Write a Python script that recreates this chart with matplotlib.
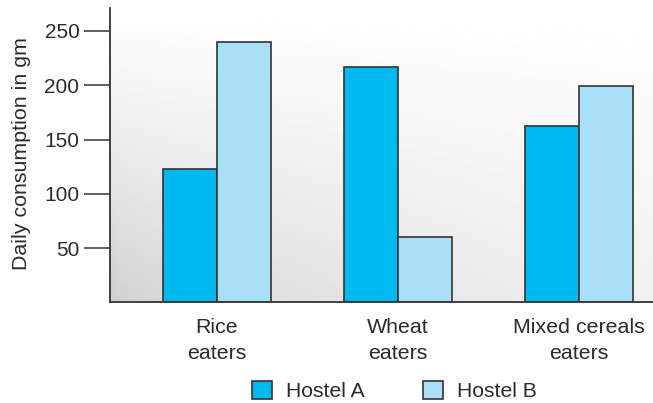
import numpy as np
import matplotlib.pyplot as plt
from matplotlib.patches import Patch

plt.rcParams["font.family"] = ["Liberation Sans", "DejaVu Sans"]

groups = ["Rice\neaters", "Wheat\neaters", "Mixed cereals\neaters"]
hostel_a = [123, 217, 162]
hostel_b = [240, 60, 199]
series_names = ["Hostel A", "Hostel B"]
yticks = [50, 100, 150, 200, 250]

col_a = "#00b9ef"
col_b = "#a9dff7"
txt = "#2b2b2b"

fig = plt.figure(figsize=(6.53, 4.03), dpi=100)
ax = fig.add_axes([0.1685, 0.2494, 0.8315, 0.7306])

x = np.arange(len(groups))
w = 0.298
xlim = (-0.591, 2.41)
ylim = (0, 271)

# gray background fading to white towards the top and right
gx, gy = np.meshgrid(np.linspace(0, 1, 300), np.linspace(0, 1, 200))
d = (1 - gy) ** 1.1 * (1 - 0.7 * gx ** 0.6)
shade = 1 - 0.19 * d
ax.imshow(shade, cmap="gray", vmin=0, vmax=1, origin="lower", aspect="auto",
          extent=(*xlim, *ylim), zorder=0, interpolation="bilinear")

ax.bar(x - w / 2, hostel_a, w, color=col_a, edgecolor="#333333", linewidth=1.2, zorder=2)
ax.bar(x + w / 2, hostel_b, w, color=col_b, edgecolor="#333333", linewidth=1.2, zorder=2)

ax.set_xlim(*xlim)
ax.set_ylim(*ylim)
ax.set_xticks(x)
ax.set_xticklabels(groups, fontsize=15.4, color=txt, linespacing=1.45)
ax.tick_params(axis="x", length=0, pad=11)
ax.set_yticks(yticks)
ax.set_yticklabels([str(v) for v in yticks], fontsize=15, color=txt)
ax.tick_params(axis="y", length=19, width=1.1, color="#333333", pad=3)
ax.set_ylabel("Daily consumption in gm", fontsize=15.4, color=txt)
ax.yaxis.set_label_coords(-0.145, 0.505)

for s in ["top", "right"]:
    ax.spines[s].set_visible(False)
for s in ["left", "bottom"]:
    ax.spines[s].set_color("#333333")
    ax.spines[s].set_linewidth(1.3)

handles = [Patch(facecolor=col_a, edgecolor="#333333", linewidth=1.2),
           Patch(facecolor=col_b, edgecolor="#333333", linewidth=1.2)]
fig.legend(handles, series_names, loc="center", bbox_to_anchor=(0.604, 0.029),
           ncol=2, frameon=False, fontsize=15.2, handlelength=0.95, handleheight=0.95,
           columnspacing=2.75, handletextpad=0.65, labelcolor=txt)

fig.savefig("out.png", dpi=100)
